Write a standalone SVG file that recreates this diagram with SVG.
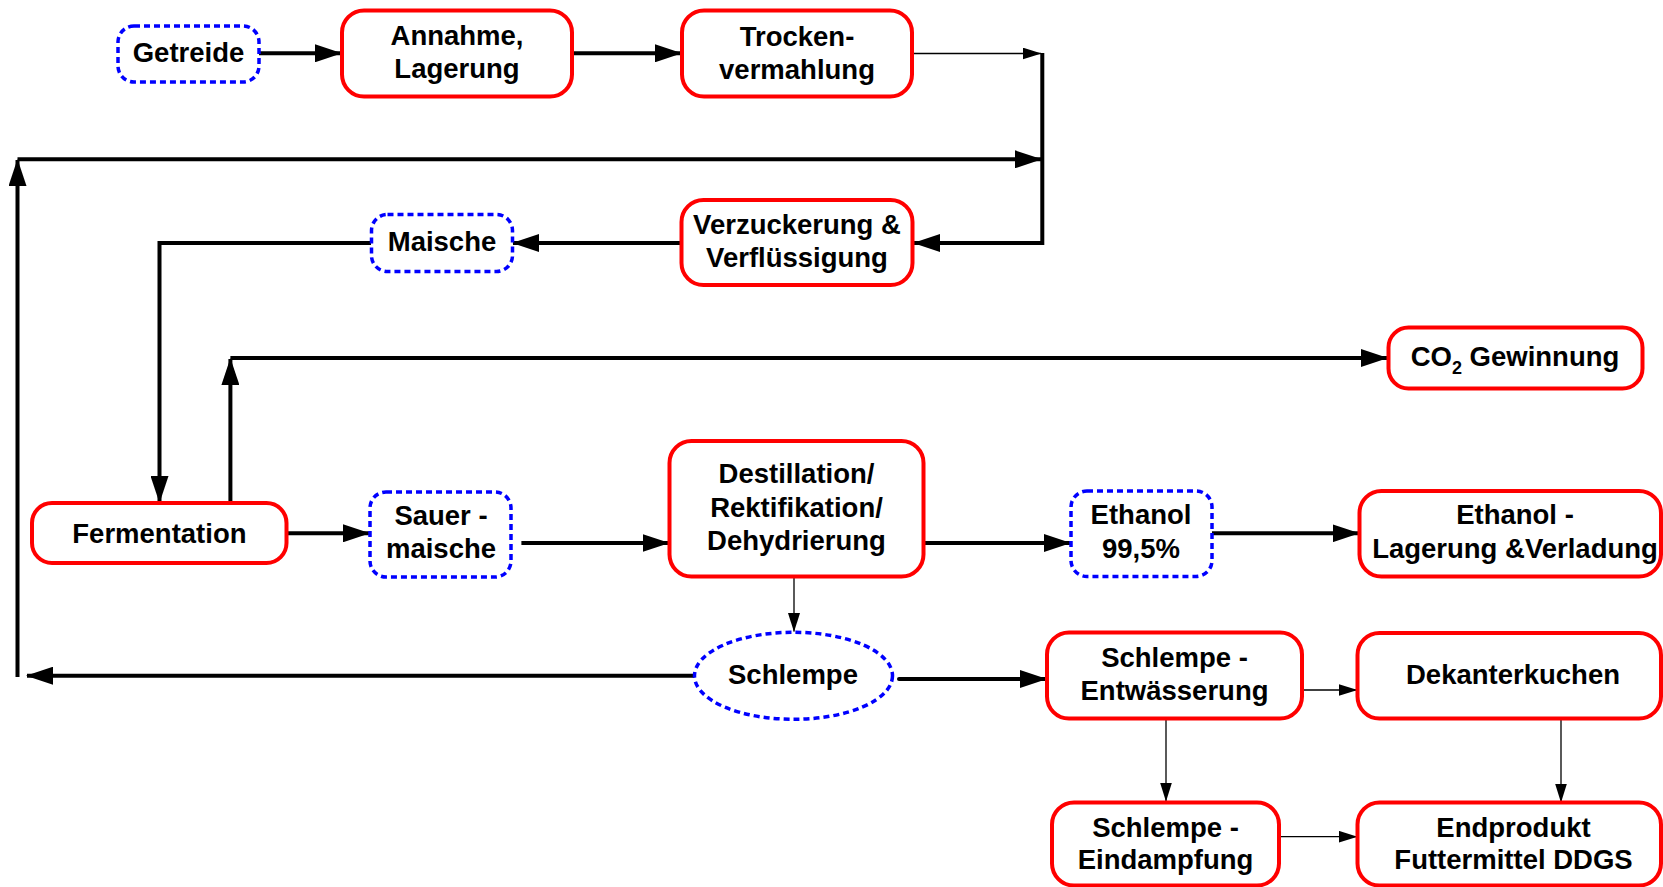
<svg xmlns="http://www.w3.org/2000/svg" width="1663" height="887" viewBox="0 0 1663 887">
<defs>
<style>
.proc{fill:#fff;stroke:#ff0000;stroke-width:4}
.mat{fill:#fff;stroke:#0000ff;stroke-width:3.5;stroke-dasharray:6 4}
.t{font-family:"Liberation Sans",Arial,sans-serif;font-weight:bold;font-size:27.5px;fill:#000;text-anchor:middle}
.thick{fill:none;stroke:#000;stroke-width:4}
.thin{fill:none;stroke:#000;stroke-width:1.3}
</style>
<marker id="ah" markerUnits="userSpaceOnUse" markerWidth="27" markerHeight="18" refX="26" refY="9" orient="auto" viewBox="0 0 27 18">
<path d="M0,0 L27,9 L0,18 Z" fill="#000"/>
</marker>
<marker id="ahs" markerUnits="userSpaceOnUse" markerWidth="19" markerHeight="12" refX="18.5" refY="6" orient="auto" viewBox="0 0 19 12">
<path d="M0,0 L19,6 L0,12 Z" fill="#000"/>
</marker>
</defs>
<rect width="1663" height="887" fill="#fff"/>

<g id="connectors">
<line class="thick" x1="259" y1="53.3" x2="341" y2="53.3" marker-end="url(#ah)"/>
<line class="thick" x1="572" y1="53.3" x2="681" y2="53.3" marker-end="url(#ah)"/>
<line class="thin" x1="912" y1="53.5" x2="1041" y2="53.5" marker-end="url(#ahs)"/>
<polyline class="thick" points="1042.3,53 1042.3,243 914,243" marker-end="url(#ah)"/>
<line class="thick" x1="17.5" y1="159.3" x2="1041" y2="159.3" marker-end="url(#ah)"/>
<line class="thick" x1="681" y1="243" x2="513" y2="243" marker-end="url(#ah)"/>
<polyline class="thick" points="371,243 159.5,243 159.5,502" marker-end="url(#ah)"/>
<line class="thick" x1="230.4" y1="502" x2="230.4" y2="359" marker-end="url(#ah)"/>
<line class="thick" x1="230.4" y1="358" x2="1387" y2="358" marker-end="url(#ah)"/>
<line class="thick" x1="287" y1="533.3" x2="369" y2="533.3" marker-end="url(#ah)"/>
<line class="thick" x1="521.4" y1="543" x2="668.5" y2="543" marker-end="url(#ah)"/>
<line class="thick" x1="924" y1="543" x2="1070" y2="543" marker-end="url(#ah)"/>
<line class="thick" x1="1212" y1="533.3" x2="1358.5" y2="533.3" marker-end="url(#ah)"/>
<line class="thin" x1="794" y1="577" x2="794" y2="631.5" marker-end="url(#ahs)"/>
<line class="thick" x1="694.5" y1="675.7" x2="27" y2="675.7" marker-end="url(#ah)"/>
<line class="thick" x1="17.5" y1="677" x2="17.5" y2="160" marker-end="url(#ah)"/>
<line class="thick" x1="899" y1="679" x2="1046" y2="679" stroke-linecap="round" marker-end="url(#ah)"/>
<line class="thin" x1="1302.5" y1="690" x2="1357" y2="690" marker-end="url(#ahs)"/>
<line class="thin" x1="1166" y1="718.5" x2="1166" y2="801" marker-end="url(#ahs)"/>
<line class="thin" x1="1279.5" y1="836.7" x2="1357" y2="836.7" marker-end="url(#ahs)"/>
<line class="thin" x1="1561" y1="718.5" x2="1561" y2="802" marker-end="url(#ahs)"/>
</g>

<g id="getreide">
<rect class="mat" x="118" y="26" width="141" height="56" rx="16"/>
<text class="t" x="188.5" y="62">Getreide</text>
</g>
<g id="annahme">
<rect class="proc" x="342" y="10.5" width="230" height="86" rx="22"/>
<text class="t" x="457" y="45">Annahme,</text>
<text class="t" x="457" y="78.3">Lagerung</text>
</g>
<g id="trocken">
<rect class="proc" x="682" y="10.5" width="230" height="86" rx="22"/>
<text class="t" x="797" y="45.5">Trocken-</text>
<text class="t" x="797" y="78.5">vermahlung</text>
</g>
<g id="verzuckerung">
<rect class="proc" x="681.5" y="200" width="231" height="85" rx="22"/>
<text class="t" x="797" y="233.5">Verzuckerung &amp;</text>
<text class="t" x="797" y="266.7">Verflüssigung</text>
</g>
<g id="maische">
<rect class="mat" x="371.5" y="214.5" width="141" height="57" rx="16"/>
<text class="t" x="442" y="250.7">Maische</text>
</g>
<g id="fermentation">
<rect class="proc" x="32" y="503" width="254.5" height="60" rx="20"/>
<text class="t" x="159.4" y="542.5">Fermentation</text>
</g>
<g id="co2">
<rect class="proc" x="1388.5" y="327.5" width="254" height="61" rx="20"/>
<text class="t" x="1515" y="365.5">CO<tspan font-size="18" dy="8">2</tspan><tspan dy="-8"> Gewinnung</tspan></text>
</g>
<g id="sauermaische">
<rect class="mat" x="370" y="492" width="141" height="85" rx="16"/>
<text class="t" x="441" y="525">Sauer -</text>
<text class="t" x="441" y="558">maische</text>
</g>
<g id="destillation">
<rect class="proc" x="669.5" y="441" width="254" height="135.5" rx="22"/>
<text class="t" x="796.5" y="483.3">Destillation/</text>
<text class="t" x="796.5" y="516.7">Rektifikation/</text>
<text class="t" x="796.5" y="550">Dehydrierung</text>
</g>
<g id="ethanol">
<rect class="mat" x="1071" y="491" width="141" height="85.5" rx="16"/>
<text class="t" x="1141" y="524">Ethanol</text>
<text class="t" x="1141" y="558">99,5%</text>
</g>
<g id="ethanol-lagerung">
<rect class="proc" x="1359.5" y="491" width="301.5" height="85.5" rx="22"/>
<text class="t" x="1515" y="524">Ethanol -</text>
<text class="t" x="1515" y="558">Lagerung &amp;Verladung</text>
</g>
<g id="schlempe">
<ellipse class="mat" cx="793.5" cy="675.8" rx="99" ry="43.5"/>
<text class="t" x="793" y="684">Schlempe</text>
</g>
<g id="entwaesserung">
<rect class="proc" x="1047" y="632.5" width="255" height="86" rx="22"/>
<text class="t" x="1174.5" y="667.3">Schlempe -</text>
<text class="t" x="1174.5" y="700">Entwässerung</text>
</g>
<g id="dekanterkuchen">
<rect class="proc" x="1357.5" y="633" width="303.5" height="85.5" rx="22"/>
<text class="t" x="1513" y="683.5">Dekanterkuchen</text>
</g>
<g id="eindampfung">
<rect class="proc" x="1052" y="802.5" width="227" height="83" rx="22"/>
<text class="t" x="1165.5" y="836.7">Schlempe -</text>
<text class="t" x="1165.5" y="869.3">Eindampfung</text>
</g>
<g id="endprodukt">
<rect class="proc" x="1357.5" y="802.5" width="303.5" height="83" rx="22"/>
<text class="t" x="1513.5" y="836.7">Endprodukt</text>
<text class="t" x="1513.5" y="869.3">Futtermittel DDGS</text>
</g>
</svg>
